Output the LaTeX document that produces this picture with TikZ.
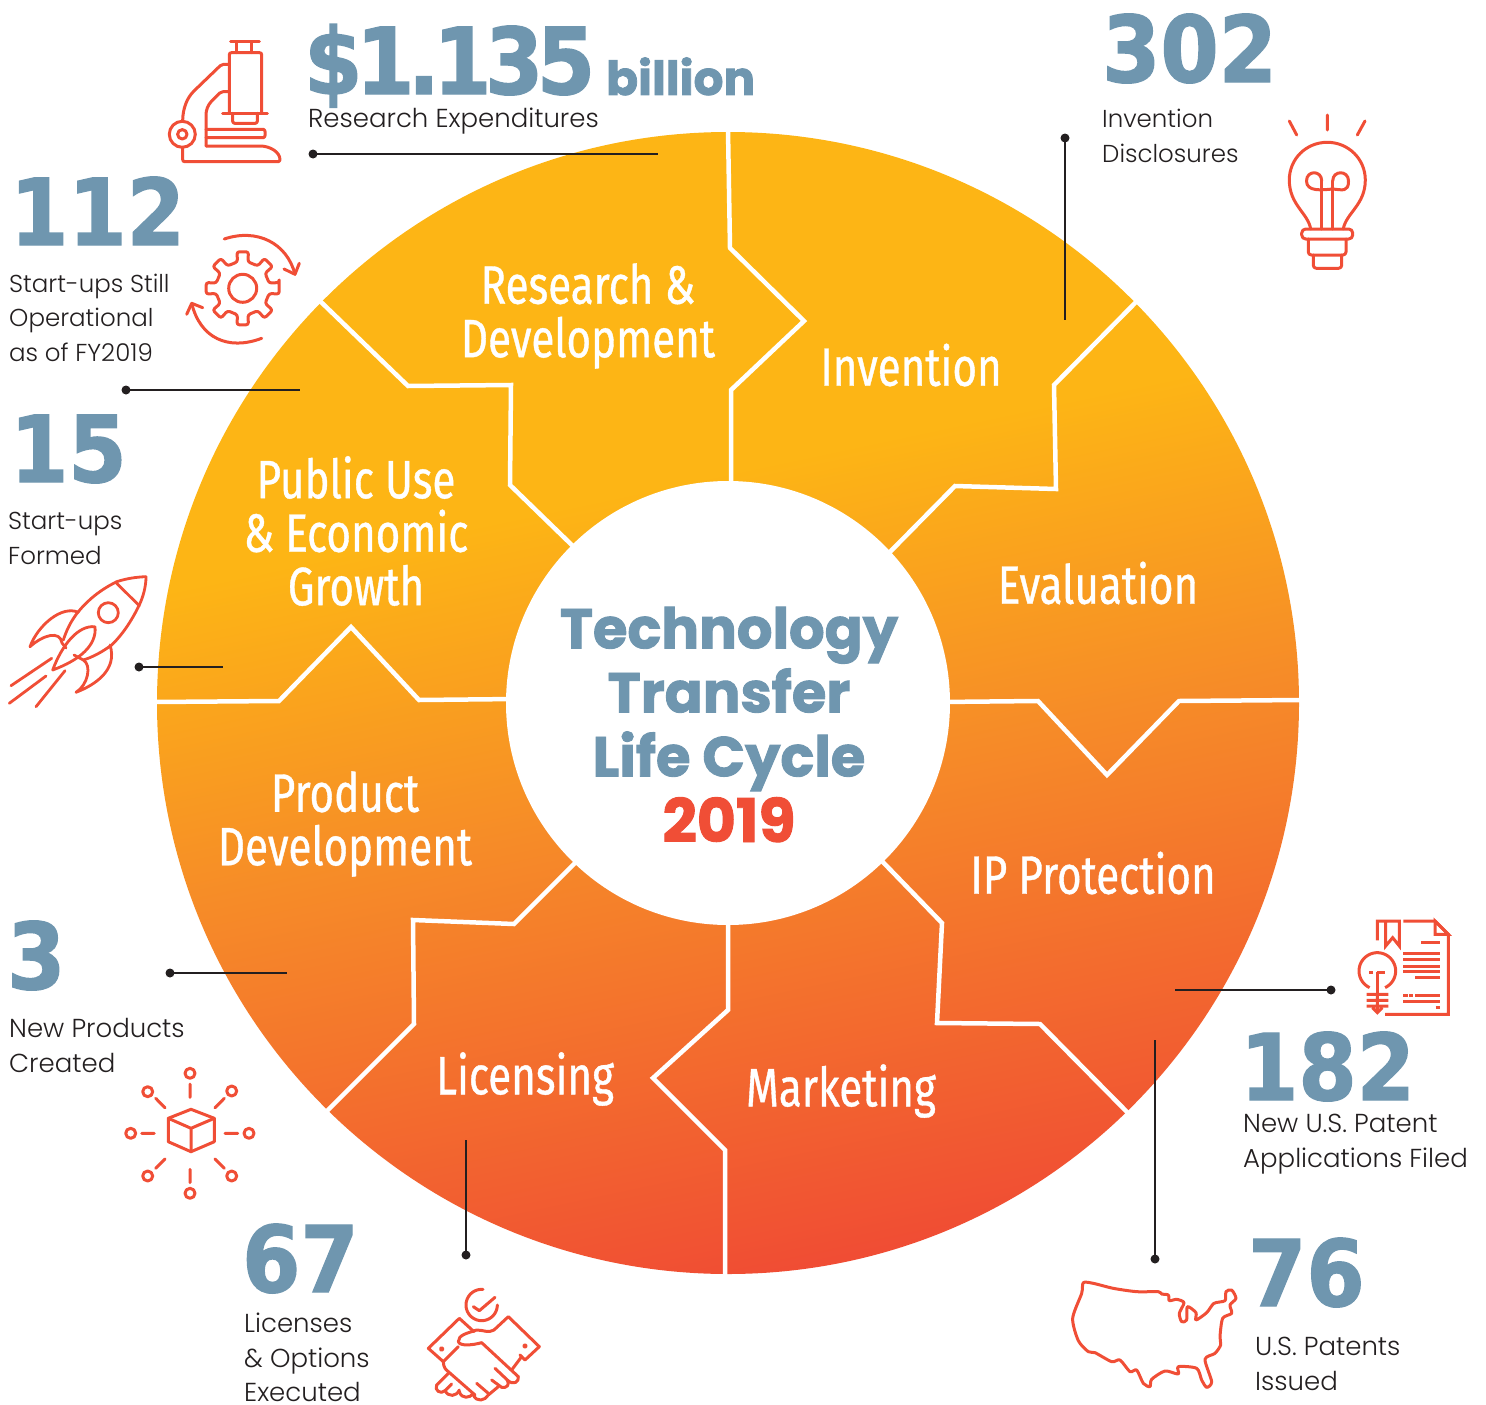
\documentclass[tikz,border=0pt]{standalone}
\usepackage{fontspec}
\setmainfont{Poppins}
\newfontfamily\numfont[FakeBold=1.6]{Poppins Bold}
\newfontfamily\digfont[FakeStretch=0.91,FakeBold=1.5]{DejaVu Sans Bold}
\newfontfamily\digtight[FakeStretch=0.91,FakeBold=1.5,LetterSpace=-7]{DejaVu Sans Bold}
\newfontfamily\labfont[FakeStretch=0.78,FakeBold=0.7]{Fira Sans}
\newfontfamily\smallfont{Poppins Light}
\definecolor{steel}{HTML}{6F96AF}
\definecolor{iconred}{HTML}{F04E36}
\definecolor{ink}{HTML}{231F20}
\definecolor{cyA}{HTML}{FDB515}
\definecolor{cyB}{HTML}{F68B28}
\definecolor{cyC}{HTML}{EF4136}
\pgfdeclareverticalshading{cyclefade}{100bp}{color(0bp)=(cyC); color(21bp)=(cyC); color(46bp)=(cyB); color(60bp)=(cyA); color(75bp)=(cyA); color(100bp)=(cyA)}
\tikzset{
  bignum/.style={anchor=base west,inner sep=0pt,text=steel,font=\digfont\fontsize{92}{92}\selectfont},
  note/.style={anchor=base west,inner sep=0pt,text=ink,align=left,font=\smallfont\fontsize{26}{34.5}\selectfont},
  notetight/.style={note,font=\smallfont\fontsize{24.5}{34.5}\selectfont},
  stage/.style={inner sep=0pt,text=white,align=center,font=\labfont\fontsize{54}{53.5}\selectfont},
  hub/.style={inner sep=0pt,align=center,text=steel,font=\numfont\fontsize{56}{64}\selectfont},
  seam/.style={white,line width=4.5pt,line join=miter},
  dot/.style={circle,fill=ink,inner sep=0pt,minimum size=9pt},
  lead/.style={ink,line width=2.8pt},
  icon/.style={iconred,line width=3pt,line cap=round,line join=round},
}
\begin{document}
\begin{tikzpicture}[x=1pt,y=-1pt]
\useasboundingbox (0,0) rectangle (1486,1405);
% disc
\path[shading=cyclefade,shading angle=12] (728,703) circle[radius=571];
\foreach \p in {
 {(728,130)--(730,248)--(804,321)--(731,390)--(731,490)},
 {(1137,301)--(1054,385)--(1056,489)--(955,486)--(885,557)},
 {(1302,700)--(1179,701)--(1107,775)--(1038,701)--(940,702)},
 {(1129,1114)--(1040,1024)--(937,1023)--(942,923)--(878,857)},
 {(725,1277)--(725,1150)--(653,1078)--(728,1010)--(728,915)},
 {(326,1112)--(414,1024)--(413,920)--(514,924)--(581,857)},
 {(154,702)--(279,701)--(351,627)--(419,700)--(516,699)},
 {(320,301)--(408,386)--(511,385)--(510,485)--(578,551)}}
 {\draw[seam] \p;}
\fill[white] (728,703) circle[radius=222];
% stage labels
\node[stage] (rd) at (588,316) {Research \&\\Development};
\node[stage] (inv) at (911,365) {Invention};
\node[stage] (eva) at (1098,583) {Evaluation};
\node[stage] (ipp) at (1093,873) {IP Protection};
\node[stage] (mkt) at (841,1091) {Marketing};
\node[stage] (lic) at (525,1079) {Licensing};
\node[stage] (pd) at (345,824) {Product\\Development};
\node[stage] (pu) at (356,531) {Public Use\\\& Economic\\Growth};
% hub
\node[hub] (hubt) at (729,699) {Technology\\Transfer\\Life Cycle};
\node[hub,text=iconred,anchor=base,font=\numfont\fontsize{60}{64}\selectfont] (huby) at (729,842) {2019};
% numbers
\node[bignum,font=\digtight\fontsize{92}{92}\selectfont] (n1) at (304,94) {\$1.135};
\node[bignum,font=\numfont\fontsize{47}{47}\selectfont] (n1b) at (606,95) {billion};
\node[bignum] (n2) at (1102,82) {302};
\node[bignum] (n3) at (10,245) {112};
\node[bignum] (n4) at (10,482) {15};
\node[bignum] (n5) at (7,989) {3};
\node[bignum] (n6) at (1240,1100) {182};
\node[bignum] (n7) at (1248,1306) {76};
\node[bignum] (n8) at (242,1292) {67};
% notes
\node[note] (t1) at (308,127.5) {Research Expenditures};
\node[notetight] (t2) at (1102,162) {Invention\\Disclosures};
\node[notetight] (t3) at (9,361) {Start-ups Still\\Operational\\as of FY2019};
\node[notetight] (t4) at (8,564) {Start-ups\\Formed};
\node[note] (t5) at (9,1072) {New Products\\Created};
\node[note] (t6) at (1243,1167) {New U.S. Patent\\Applications Filed};
\node[note] (t7) at (1255,1390) {U.S. Patents\\Issued};
\node[note] (t8) at (244,1401.5) {Licenses\\\& Options\\Executed};
% leaders
\node[dot] (d1) at (313,154) {}; \coordinate (e1) at (658,154);
\node[dot] (d2) at (1065,138) {}; \coordinate (e2) at (1065,320);
\node[dot] (d3) at (126,390) {}; \coordinate (e3) at (300,390);
\node[dot] (d4) at (139,667) {}; \coordinate (e4) at (223,667);
\node[dot] (d5) at (170,973) {}; \coordinate (e5) at (287,973);
\node[dot] (d6) at (1331,990) {}; \coordinate (e6) at (1175,990);
\node[dot] (d7) at (1155,1259) {}; \coordinate (e7) at (1155,1040);
\node[dot] (d8) at (466,1255) {}; \coordinate (e8) at (466,1140);
\foreach \i in {1,...,8} {\draw[lead] (d\i.center) -- (e\i);}
% microscope
\begin{scope}[icon,rounded corners=2pt]
\draw (230.7,41.7)--(259.3,41.7) (236,41.7)--(236,52.7) (251.7,41.7)--(251.7,52.7);
\draw (229.3,112.7)--(229.3,52.7)--(261.7,52.7)--(261.7,112.7);
\draw (222.7,113.3)--(267.3,113.3);
\draw (232.7,113.3)--(232.7,123.3)--(257.3,123.3)--(257.3,113.3);
\draw (228.3,64.3)--(221.7,64.3)--(195,90) .. controls (187,98) and (183,108) .. (182.7,120);
\draw (228.3,91.7)--(221,91.7)--(212.7,100) .. controls (208,105) and (206,110) .. (206,116.7)--(206,146);
\draw (206,129.3)--(265,129.3)--(265,137.7)--(206,137.7);
\draw (206,146)--(258,146) .. controls (270,146) and (280,152) .. (280,161.7)--(182.7,161.7)--(182.7,147.3);
\draw (182.3,134.3) circle[radius=13] (182.3,134.3) circle[radius=4.7];
\end{scope}
% gear
\begin{scope}[icon,shift={(242.7,288.3)}]
\draw circle[radius=14];
\draw[rounded corners=2.5pt] (-9:37) \foreach \a in {0,45,...,315} { -- (\a-9:37) -- (\a+9:37) -- (\a+11:27) -- (\a+34:27) } -- cycle;
\end{scope}
\begin{scope}[icon]
\draw (224.3,239) .. controls (257,228) and (287,243) .. (295,274.3);
\draw (284,269)--(295,274.3)--(299.3,263.3);
\draw (261.7,338.3) .. controls (228,351) and (200,338) .. (191.7,303.3);
\draw (202.7,307.7)--(191.7,303.3)--(186.7,314.3);
\end{scope}
% bulb
\begin{scope}[icon]
\draw (1289.3,121)--(1296.7,135) (1327.3,115)--(1327.3,130) (1365,121)--(1357.3,135);
\draw (1310.7,229) .. controls (1308,213) and (1289.3,205) .. (1289.3,180) .. controls (1289.3,159) and (1306,142.3) .. (1327.3,142.3) .. controls (1348.3,142.3) and (1365.3,159) .. (1365.3,180) .. controls (1365.3,205) and (1346,213) .. (1343.3,229);
\draw[rounded corners=4pt] (1301.7,229) rectangle (1352.7,239);
\draw[rounded corners=3pt] (1308.3,239)--(1308.3,255)--(1346,255)--(1346,239);
\draw[rounded corners=3pt] (1313.3,255)--(1313.3,268.3)--(1341.7,268.3)--(1341.7,255);
\draw (1321.7,229)--(1321.7,181) (1332.7,229)--(1332.7,181);
\draw (1321.7,181) .. controls (1321.7,170) and (1306.5,170) .. (1306.5,181) .. controls (1306.5,192) and (1322,190) .. (1332.7,189) .. controls (1343,190) and (1348.5,192) .. (1348.5,181) .. controls (1348.5,170) and (1332.7,170) .. (1332.7,181);
\end{scope}
% rocket
\begin{scope}[icon,line width=2.8pt]
\draw (146,576.7) .. controls (135,577) and (125,579) .. (116.7,581.7) .. controls (100,590) and (88,600) .. (78.3,611.7) .. controls (70,622) and (66,632) .. (63.3,640);
\draw (146,576.7) .. controls (146,587) and (143,597) .. (139.3,605) .. controls (131,622) and (122,635) .. (111.7,645) .. controls (102,652) and (93,657) .. (83.3,660);
\draw (116.7,583.3)--(139.3,605.7);
\draw (108.3,612.7) circle[radius=10];
\draw (78.3,612.3) .. controls (62,605) and (38,625) .. (30,646.7) .. controls (43,635) and (60,630) .. (62,643)--(66,648);
\draw (110,645) .. controls (118,670) and (95,685) .. (76,692.3) .. controls (88,685) and (92,665) .. (83.3,660)--(74,655);
\draw (52.7,670) .. controls (62,645) and (78,625) .. (95,626.7) .. controls (97,645) and (80,660) .. (52.7,670);
\draw (51.7,658.3)--(11,685.7) (46,676)--(9.3,703.3) (65,670.7)--(36,706.7);
\end{scope}
% cube
\begin{scope}[icon]
\draw (191,1109.3)--(214.3,1118.3)--(214.3,1141.7)--(191,1151.7)--(168.3,1141.7)--(168.3,1118.3)--cycle;
\draw (168.3,1118.3)--(191,1128.3)--(214.3,1118.3) (191,1128.3)--(191,1151.7);
\foreach \x/\y in {190/1073.3,190/1193.3,130.7/1133.3,249/1133.3,147.7/1091.7,231.7/1091,147.7/1176,231.7/1176}
  {\draw (\x,\y) circle[radius=5];}
\draw (190,1084)--(190,1097.3) (190,1169.3)--(190,1182.7) (141.7,1133.3)--(154.3,1133.3) (225,1133.3)--(237.7,1133.3)
 (155.7,1098.3)--(165,1107.7) (224.3,1098.3)--(215,1107.7) (155.7,1168.3)--(165,1159) (224.3,1168.3)--(215,1159);
\end{scope}
% handshake
\begin{scope}[icon,shift={(420,1280)},x=.3333pt,y=.3333pt]
\draw plot[domain=0:275,samples=40,smooth] ({185+47*cos(-85-\x)},{-(75+47*sin(-85-\x))});
\draw (160,-80)--(178,-92)--(225,-52);
\draw (162,-155)--(118,-115)--(25,-205)--(70,-245)--(115,-200);
\draw (222,-150)--(265,-110)--(358,-200)--(315,-240)--(300,-225);
\draw (65,-207) circle[radius=4] (315,-198) circle[radius=4];
\draw (222,-150) .. controls (205,-160) and (190,-150) .. (170,-150) .. controls (140,-160) and (115,-165) .. (115,-185) .. controls (120,-200) and (160,-195) .. (185,-188)--(295,-290) .. controls (298,-305) and (280,-318) .. (262,-300) -- (225,-265);
\draw (305,-230)--(275,-270);
\draw (70,-245) .. controls (70,-262) and (78,-270) .. (85,-275)--(165,-345);
\draw (85,-280)--(50,-315) .. controls (42,-330) and (62,-345) .. (75,-332)--(95,-312);
\draw (75,-332) .. controls (85,-352) and (110,-350) .. (118,-330);
\draw (118,-335) .. controls (125,-358) and (150,-355) .. (160,-340);
\draw (160,-345) .. controls (170,-368) and (195,-362) .. (205,-345)--(235,-320);
\draw (170,-310)--(205,-340) (215,-300)--(245,-322) .. controls (260,-325) and (270,-315) .. (262,-300);
\end{scope}
% map
\begin{scope}[icon,shift={(1060,1270)},x=.3333pt,y=.3333pt]
\draw[line width=3pt] plot[smooth cycle,tension=.45] coordinates {(70,-38)(100,-40)(160,-55)(230,-65)(295,-65)(305,-72)(325,-75)(328,-92)(350,-88)(372,-98)(358,-130)(365,-155)(380,-150)(382,-110)(408,-128)(408,-150)(440,-128)(462,-100)(495,-92)(498,-65)(515,-60)(528,-85)(510,-105)(515,-130)(488,-145)(480,-200)(482,-225)(465,-250)(435,-268)(455,-335)(440,-352)(425,-330)(410,-295)(355,-290)(355,-312)(315,-303)(275,-328)(270,-350)(250,-340)(230,-300)(210,-305)(180,-270)(155,-275)(105,-248)(85,-245)(55,-212)(38,-145)(65,-70)};
\end{scope}
% document
\begin{scope}[icon,line cap=butt,line join=miter,shift={(1345,911)},x=.3333pt,y=.3333pt]
\draw (97,-88)--(97,-30)--(163,-30)--(163,-105)--(143,-80)--(122,-105)--(122,-30);
\draw (175,-30)--(270,-30)--(310,-70)--(310,-310)--(120,-310);
\draw (270,-30)--(270,-70)--(310,-70)--cycle;
\draw (228,-95)--(285,-95) (175,-128)--(285,-128) (175,-145)--(285,-145) (175,-165)--(285,-165) (175,-182)--(285,-182) (210,-198)--(285,-198) (175,-253)--(188,-253) (193,-253)--(205,-253) (210,-253)--(285,-253) (175,-270)--(285,-270) (272,-288)--(285,-288);
\draw plot[domain=115:425,samples=40,smooth] ({97+55*cos(\x)},{-(180+55*sin(\x))});
\draw (72,-183)--(85,-183) (95,-183)--(120,-183) (97,-183)--(97,-250);
\draw (65,-250)--(130,-250) (65,-268)--(130,-268) (65,-285)--(130,-285) (82,-290)--(97,-305)--(112,-290) (97,-250)--(97,-300);
\end{scope}
\end{tikzpicture}
\end{document}
